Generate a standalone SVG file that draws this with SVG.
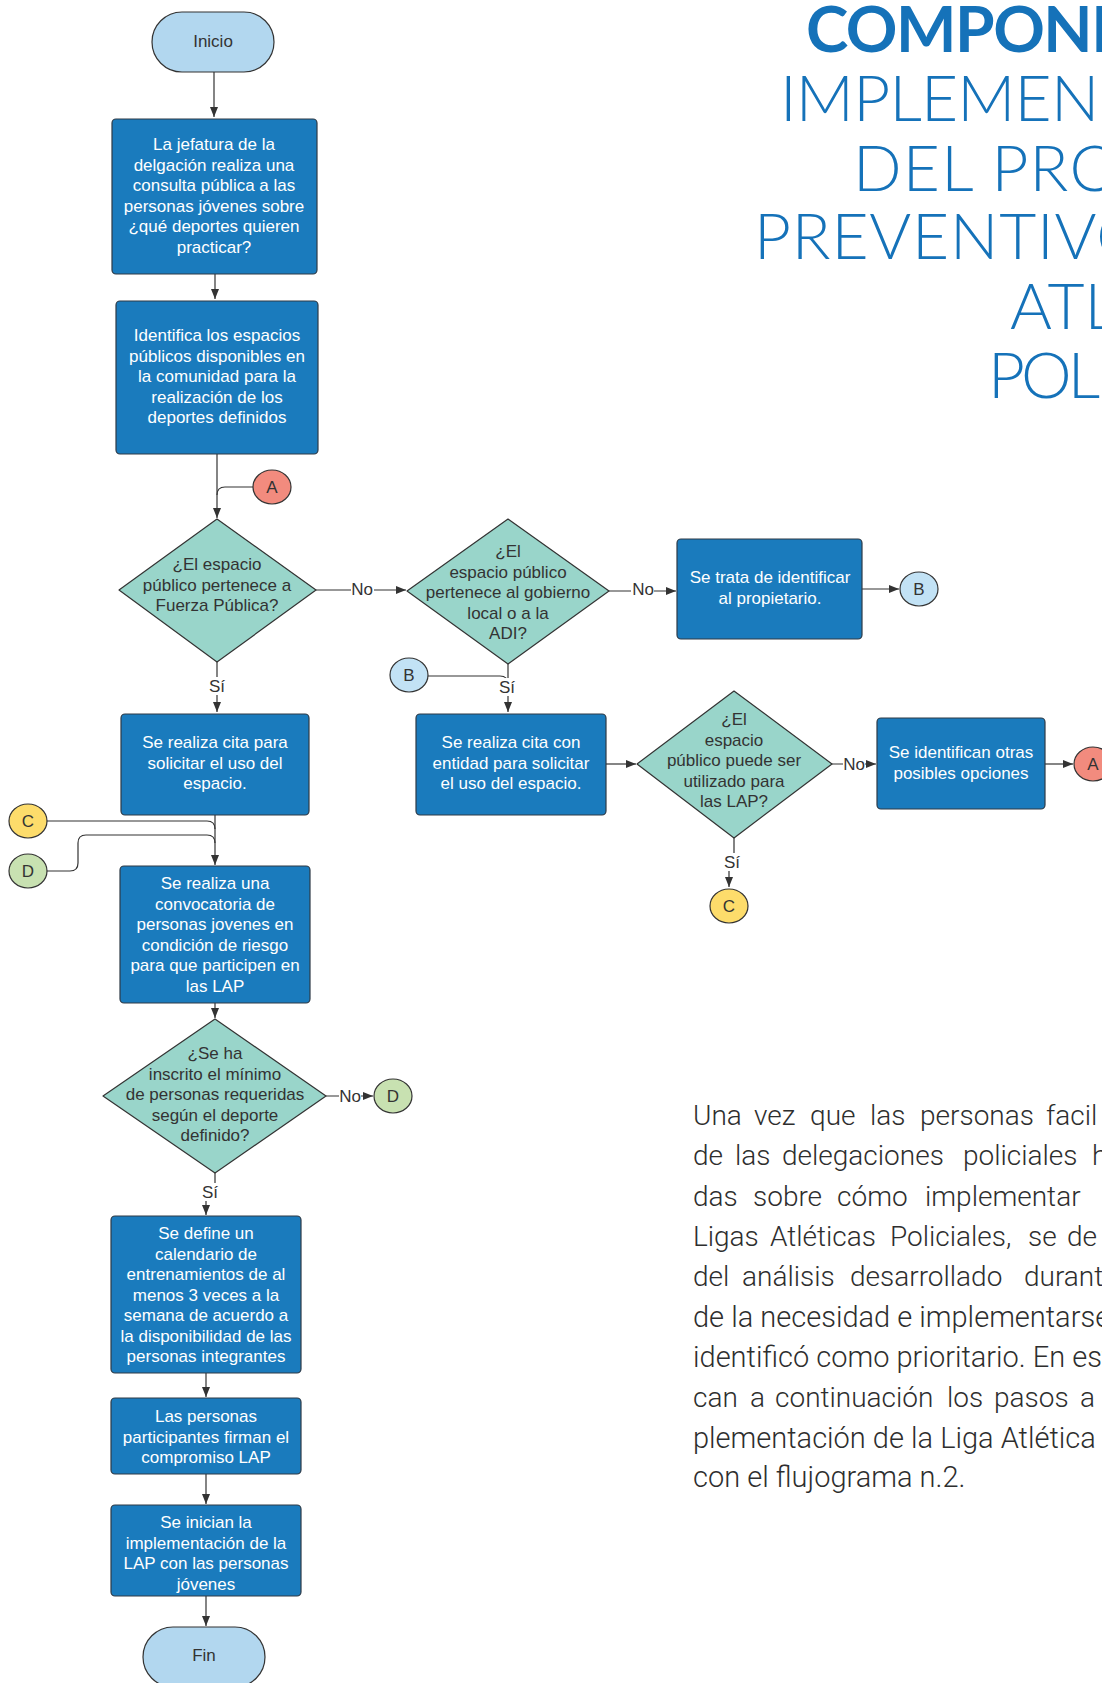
<svg xmlns="http://www.w3.org/2000/svg" width="1102" height="1683" viewBox="0 0 1102 1683">
<defs>
<marker id="arr" viewBox="0 0 10 10" refX="10" refY="5" markerWidth="10" markerHeight="10" markerUnits="userSpaceOnUse" orient="auto"><path d="M0,1 L10,5 L0,9 z" fill="#333"/></marker>
<style>
.proc{fill:#1A7BBD;stroke:#2E3A46;stroke-width:1.2}
.dec{fill:#99D5CA;stroke:#333;stroke-width:1.2;stroke-linejoin:round}
.term{fill:#B2D7EF;stroke:#333;stroke-width:1.2}
.wt{font-family:"Liberation Sans",Arial,sans-serif;font-size:17px;fill:#fff;text-anchor:middle}
.dt{font-family:"Liberation Sans",Arial,sans-serif;font-size:17px;fill:#333;text-anchor:middle}
.ln{fill:none;stroke:#333;stroke-width:1.2}
.lbl{font-family:"Liberation Sans",Arial,sans-serif;font-size:17px;fill:#333;text-anchor:middle}
.title{font-family:Lato,"Open Sans",sans-serif;font-size:64px;fill:#1572B9}
.body{font-family:Roboto,"Liberation Sans",sans-serif;font-weight:300;font-size:29px;fill:#2E2E2E}
.just{font-size:28px}
</style>
</defs>
<rect width="1102" height="1683" fill="#fff"/>

<g id="title">
<text class="title" x="806" y="52" font-weight="700" letter-spacing="-1.5">COMPONE</text>
<text class="title" x="780" y="121" font-weight="300" letter-spacing="-0.8">IMPLEMEN</text>
<text class="title" x="853" y="191" font-weight="300" letter-spacing="1.2">DEL PRO</text>
<text class="title" x="754" y="259" font-weight="300" letter-spacing="0.8">PREVENTIVO</text>
<text class="title" x="1010" y="329" font-weight="300">ATL</text>
<text class="title" x="988" y="398" font-weight="300" letter-spacing="-4">POL</text>
</g>

<g id="paragraph" class="body">
<text class="just" y="1125"><tspan x="693">Una</tspan><tspan x="754">vez</tspan><tspan x="810">que</tspan><tspan x="870">las</tspan><tspan x="920">personas</tspan><tspan x="1046">facil</tspan></text>
<text class="just" y="1165"><tspan x="693">de</tspan><tspan x="735">las</tspan><tspan x="782">delegaciones</tspan><tspan x="963">policiales</tspan><tspan x="1092">h</tspan></text>
<text class="just" y="1206"><tspan x="693">das</tspan><tspan x="753">sobre</tspan><tspan x="837">cómo</tspan><tspan x="925">implementar</tspan></text>
<text class="just" y="1246"><tspan x="693">Ligas</tspan><tspan x="770">Atléticas</tspan><tspan x="890">Policiales,</tspan><tspan x="1028">se</tspan><tspan x="1067">de</tspan></text>
<text class="just" y="1286"><tspan x="693">del</tspan><tspan x="742">análisis</tspan><tspan x="850">desarrollado</tspan><tspan x="1024">durant</tspan></text>
<text x="693" y="1327">de la necesidad e implementarse</text>
<text x="693" y="1367">identificó como prioritario. En est</text>
<text class="just" y="1407"><tspan x="693">can</tspan><tspan x="750">a</tspan><tspan x="775">continuación</tspan><tspan x="947">los</tspan><tspan x="994">pasos</tspan><tspan x="1080">a</tspan></text>
<text x="693" y="1448">plementación de la Liga Atlética</text>
<text x="693" y="1487">con el flujograma n.2.</text>
</g>

<g id="connectors">
<path class="ln" d="M214,72 V117" marker-end="url(#arr)"/>
<path class="ln" d="M215,274 V299" marker-end="url(#arr)"/>
<path class="ln" d="M217,454 V518" marker-end="url(#arr)"/>
<path class="ln" d="M253,487 H225 Q217,487 217,495"/>
<path class="ln" d="M316,590 H406" marker-end="url(#arr)"/>
<path class="ln" d="M217,662 V712" marker-end="url(#arr)"/>
<path class="ln" d="M609,591 H676" marker-end="url(#arr)"/>
<path class="ln" d="M862,589 H899" marker-end="url(#arr)"/>
<path class="ln" d="M508,664 V712" marker-end="url(#arr)"/>
<path class="ln" d="M428,676 H500 Q508,676 508,684"/>
<path class="ln" d="M606,764 H636" marker-end="url(#arr)"/>
<path class="ln" d="M832,764 H876" marker-end="url(#arr)"/>
<path class="ln" d="M1045,764 H1073" marker-end="url(#arr)"/>
<path class="ln" d="M734,838 V858 H729 V887" marker-end="url(#arr)"/>
<path class="ln" d="M215,815 V865" marker-end="url(#arr)"/>
<path class="ln" d="M47,821 H207 Q215,821 215,829"/>
<path class="ln" d="M47,871 H70 Q78,871 78,863 V843 Q78,835 86,835 H207 Q215,835 215,843"/>
<path class="ln" d="M215,1003 V1018" marker-end="url(#arr)"/>
<path class="ln" d="M326,1096 H373" marker-end="url(#arr)"/>
<path class="ln" d="M215,1173 V1190 H206 V1215" marker-end="url(#arr)"/>
<path class="ln" d="M206,1373 V1397" marker-end="url(#arr)"/>
<path class="ln" d="M206,1474 V1504" marker-end="url(#arr)"/>
<path class="ln" d="M206,1596 V1626" marker-end="url(#arr)"/>
<g fill="#fff">
<rect x="351" y="580" width="23" height="18"/>
<rect x="631" y="580" width="23" height="18"/>
<rect x="843" y="755" width="22" height="18"/>
<rect x="339" y="1087" width="22" height="18"/>
<rect x="208" y="677" width="18" height="18"/>
<rect x="498" y="678" width="18" height="18"/>
<rect x="723" y="853" width="18" height="18"/>
<rect x="201" y="1183" width="18" height="18"/>
</g>
<text class="lbl" x="362" y="595">No</text>
<text class="lbl" x="643" y="595">No</text>
<text class="lbl" x="854" y="770">No</text>
<text class="lbl" x="350" y="1102">No</text>
<text class="lbl" x="217" y="692">Sí</text>
<text class="lbl" x="507" y="693">Sí</text>
<text class="lbl" x="732" y="868">Sí</text>
<text class="lbl" x="210" y="1198">Sí</text>
</g>

<g id="inicio"><rect class="term" x="152" y="12" width="122" height="60" rx="30"/><text class="dt" x="213" y="47">Inicio</text></g>

<g id="box1"><rect class="proc" x="112" y="119" width="205" height="155" rx="4"/>
<text class="wt" x="214" y="150"><tspan x="214">La jefatura de la</tspan><tspan x="214" dy="20.5">delgación realiza una</tspan><tspan x="214" dy="20.5">consulta pública a las</tspan><tspan x="214" dy="20.5">personas jóvenes sobre</tspan><tspan x="214" dy="20.5">¿qué deportes quieren</tspan><tspan x="214" dy="20.5">practicar?</tspan></text></g>

<g id="box2"><rect class="proc" x="116" y="301" width="202" height="153" rx="4"/>
<text class="wt" y="341"><tspan x="217">Identifica los espacios</tspan><tspan x="217" dy="20.5">públicos disponibles en</tspan><tspan x="217" dy="20.5">la comunidad para la</tspan><tspan x="217" dy="20.5">realización de los</tspan><tspan x="217" dy="20.5">deportes definidos</tspan></text></g>

<g id="connA1"><ellipse cx="272" cy="487" rx="19" ry="17" fill="#F28B7E" stroke="#333" stroke-width="1.2"/><text class="dt" x="272" y="493">A</text></g>

<g id="dec1"><path class="dec" d="M217,519 L316,590 L217,662 L119,590 Z"/>
<text class="dt" y="570"><tspan x="217">¿El espacio</tspan><tspan x="217" dy="20.5">público pertenece a</tspan><tspan x="217" dy="20.5">Fuerza Pública?</tspan></text></g>

<g id="dec2"><path class="dec" d="M508,519 L609,591 L508,664 L407,591 Z"/>
<text class="dt" y="557"><tspan x="508">¿El</tspan><tspan x="508" dy="20.5">espacio público</tspan><tspan x="508" dy="20.5">pertenece al gobierno</tspan><tspan x="508" dy="20.5">local o a la</tspan><tspan x="508" dy="20.5">ADI?</tspan></text></g>

<g id="box5"><rect class="proc" x="677" y="539" width="185" height="100" rx="4"/>
<text class="wt" y="583"><tspan x="770">Se trata de identificar</tspan><tspan x="770" dy="20.5">al propietario.</tspan></text></g>

<g id="connB1"><ellipse cx="919" cy="589" rx="19" ry="17" fill="#C2E2F5" stroke="#333" stroke-width="1.2"/><text class="dt" x="919" y="595">B</text></g>

<g id="connB2"><ellipse cx="409" cy="675" rx="19" ry="17" fill="#C2E2F5" stroke="#333" stroke-width="1.2"/><text class="dt" x="409" y="681">B</text></g>

<g id="box3"><rect class="proc" x="121" y="714" width="188" height="101" rx="4"/>
<text class="wt" y="748"><tspan x="215">Se realiza cita para</tspan><tspan x="215" dy="20.5">solicitar el uso del</tspan><tspan x="215" dy="20.5">espacio.</tspan></text></g>

<g id="box4"><rect class="proc" x="416" y="714" width="190" height="101" rx="4"/>
<text class="wt" y="748"><tspan x="511">Se realiza cita con</tspan><tspan x="511" dy="20.5">entidad para solicitar</tspan><tspan x="511" dy="20.5">el uso del espacio.</tspan></text></g>

<g id="dec3"><path class="dec" d="M734,691 L832,764 L734,838 L637,764 Z"/>
<text class="dt" y="725"><tspan x="734">¿El</tspan><tspan x="734" dy="20.5">espacio</tspan><tspan x="734" dy="20.5">público puede ser</tspan><tspan x="734" dy="20.5">utilizado para</tspan><tspan x="734" dy="20.5">las LAP?</tspan></text></g>

<g id="box6"><rect class="proc" x="877" y="718" width="168" height="91" rx="4"/>
<text class="wt" y="758"><tspan x="961">Se identifican otras</tspan><tspan x="961" dy="20.5">posibles opciones</tspan></text></g>

<g id="connA2"><ellipse cx="1093" cy="764" rx="19" ry="17" fill="#F28B7E" stroke="#333" stroke-width="1.2"/><text class="dt" x="1093" y="770">A</text></g>

<g id="connC1"><ellipse cx="729" cy="906" rx="19" ry="17" fill="#FDDC6B" stroke="#333" stroke-width="1.2"/><text class="dt" x="729" y="912">C</text></g>

<g id="connC2"><ellipse cx="28" cy="821" rx="19" ry="17" fill="#FDDC6B" stroke="#333" stroke-width="1.2"/><text class="dt" x="28" y="827">C</text></g>

<g id="connD1"><ellipse cx="28" cy="871" rx="19" ry="17" fill="#C8E1B1" stroke="#333" stroke-width="1.2"/><text class="dt" x="28" y="877">D</text></g>

<g id="box7"><rect class="proc" x="120" y="866" width="190" height="137" rx="4"/>
<text class="wt" y="889"><tspan x="215">Se realiza una</tspan><tspan x="215" dy="20.5">convocatoria de</tspan><tspan x="215" dy="20.5">personas jovenes en</tspan><tspan x="215" dy="20.5">condición de riesgo</tspan><tspan x="215" dy="20.5">para que participen en</tspan><tspan x="215" dy="20.5">las LAP</tspan></text></g>

<g id="dec4"><path class="dec" d="M215,1019 L326,1096 L215,1173 L103,1096 Z"/>
<text class="dt" y="1059"><tspan x="215">¿Se ha</tspan><tspan x="215" dy="20.5">inscrito el mínimo</tspan><tspan x="215" dy="20.5">de personas requeridas</tspan><tspan x="215" dy="20.5">según el deporte</tspan><tspan x="215" dy="20.5">definido?</tspan></text></g>

<g id="connD2"><ellipse cx="393" cy="1096" rx="19" ry="17" fill="#C8E1B1" stroke="#333" stroke-width="1.2"/><text class="dt" x="393" y="1102">D</text></g>

<g id="box8"><rect class="proc" x="111" y="1216" width="190" height="157" rx="4"/>
<text class="wt" y="1239"><tspan x="206">Se define un</tspan><tspan x="206" dy="20.5">calendario de</tspan><tspan x="206" dy="20.5">entrenamientos de al</tspan><tspan x="206" dy="20.5">menos 3 veces a la</tspan><tspan x="206" dy="20.5">semana de acuerdo a</tspan><tspan x="206" dy="20.5">la disponibilidad de las</tspan><tspan x="206" dy="20.5">personas integrantes</tspan></text></g>

<g id="box9"><rect class="proc" x="111" y="1398" width="190" height="76" rx="4"/>
<text class="wt" y="1422"><tspan x="206">Las personas</tspan><tspan x="206" dy="20.5">participantes firman el</tspan><tspan x="206" dy="20.5">compromiso LAP</tspan></text></g>

<g id="box10"><rect class="proc" x="111" y="1505" width="190" height="91" rx="4"/>
<text class="wt" y="1528"><tspan x="206">Se inician la</tspan><tspan x="206" dy="20.5">implementación de la</tspan><tspan x="206" dy="20.5">LAP con las personas</tspan><tspan x="206" dy="20.5">jóvenes</tspan></text></g>

<g id="fin"><rect class="term" x="143" y="1627" width="122" height="60" rx="30"/><text class="dt" x="204" y="1661">Fin</text></g>
</svg>
